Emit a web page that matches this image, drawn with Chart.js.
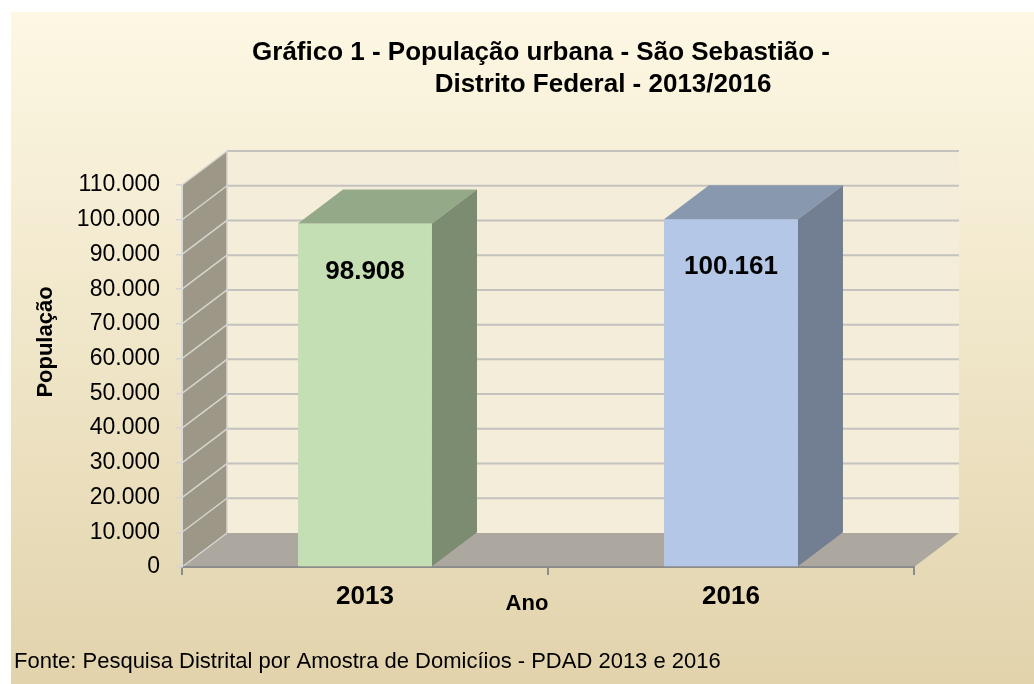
<!DOCTYPE html>
<html lang="pt-BR">
<head>
<meta charset="utf-8">
<title>População urbana - São Sebastião</title>
<script src="https://cdn.jsdelivr.net/npm/chart.js@4.4.1/dist/chart.umd.min.js"></script>
<style>
  html, body { margin: 0; padding: 0; background: #ffffff; }
  #wrap { width: 1034px; height: 684px; position: relative; }
</style>
</head>
<body>
<div id="wrap"><canvas id="grafico" width="1034" height="684"></canvas></div>
<script>
// Dados do gráfico
const anos = ['2013', '2016'];
const populacao = [98908, 100161];
const ticksY = [0, 10000, 20000, 30000, 40000, 50000, 60000, 70000, 80000, 90000, 100000, 110000];

// Textos
const titulo = ['Gráfico 1 - População urbana - São Sebastião -', 'Distrito Federal - 2013/2016'];
const tituloY = 'População';
const tituloX = 'Ano';
const fonte = 'Fonte: Pesquisa Distrital por Amostra de Domicíios - PDAD 2013 e 2016';

// Cores das barras (frente, topo, lateral)
const corFrente = ['#C5DFB4', '#B4C7E7'];
const corTopo = ['#94A987', '#8898AE'];
const corLado = ['#7C8C70', '#727F93'];

const FAMILIA = '"Liberation Sans", Arial, sans-serif';
const DX = 45, DY = -34; // deslocamento da profundidade 3D

function fmt(v) {
    return String(v).replace(/\B(?=(\d{3})+(?!\d))/g, '.');
}

function poligono(ctx, pts, cor) {
    ctx.beginPath();
    ctx.moveTo(pts[0][0], pts[0][1]);
    for (let i = 1; i < pts.length; i++) ctx.lineTo(pts[i][0], pts[i][1]);
    ctx.closePath();
    ctx.fillStyle = cor;
    ctx.fill();
}

// Fundo, paredes e piso em 3D
const paredes = {
    id: 'paredes',
    beforeDraw(chart) {
        const ctx = chart.ctx;
        const { left, right, top, bottom } = chart.chartArea;
        const y = chart.scales.y;
        ctx.save();

        const g = ctx.createLinearGradient(0, 12, 0, 684);
        g.addColorStop(0, '#FDF8E4');
        g.addColorStop(1, '#E2D3AC');
        ctx.fillStyle = g;
        ctx.fillRect(11, 12, 1023, 672);

        // parede do fundo
        ctx.fillStyle = '#F3EDD9';
        ctx.fillRect(left + DX, top + DY, right - left, bottom - top);
        // parede lateral
        poligono(ctx, [[left, top], [left + DX, top + DY], [left + DX, bottom + DY], [left, bottom]], '#9C9787');
        // piso
        poligono(ctx, [[left, bottom], [right, bottom], [right + DX, bottom + DY], [left + DX, bottom + DY]], '#ACA79F');

        // linhas de grade
        y.ticks.forEach(t => {
            const py = y.getPixelForValue(t.value);
            ctx.strokeStyle = '#D8D5CE';
            ctx.lineWidth = 1.5;
            ctx.beginPath();
            ctx.moveTo(left, py);
            ctx.lineTo(left + DX, py + DY);
            ctx.stroke();
            if (t.value > 0) {
                ctx.strokeStyle = '#C4C2BF';
                ctx.lineWidth = 2;
                ctx.beginPath();
                ctx.moveTo(left + DX, py + DY);
                ctx.lineTo(right + DX, py + DY);
                ctx.stroke();
            }
        });
        ctx.strokeStyle = '#D8D5CE';
        ctx.lineWidth = 1.5;
        ctx.beginPath();
        ctx.moveTo(left + DX, top + DY);
        ctx.lineTo(left + DX, bottom + DY);
        ctx.stroke();
        ctx.restore();
    },
    afterDatasetsDraw(chart) {
        const ctx = chart.ctx;
        const meta = chart.getDatasetMeta(0);
        ctx.save();
        meta.data.forEach((bar, i) => {
            const p = bar.getProps(['x', 'y', 'base', 'width'], true);
            const l = p.x - p.width / 2, r = p.x + p.width / 2;
            poligono(ctx, [[l, p.y], [r, p.y], [r + DX, p.y + DY], [l + DX, p.y + DY]], corTopo[i]);
            poligono(ctx, [[r, p.y], [r + DX, p.y + DY], [r + DX, p.base + DY], [r, p.base]], corLado[i]);
            ctx.fillStyle = '#000';
            ctx.font = 'bold 26px ' + FAMILIA;
            ctx.textAlign = 'center';
            ctx.textBaseline = 'middle';
            ctx.fillText(fmt(populacao[i]), p.x, p.y + 48);
        });
        ctx.restore();
    },
    afterDraw(chart) {
        const ctx = chart.ctx;
        ctx.save();
        ctx.fillStyle = '#000';
        ctx.textAlign = 'center';
        ctx.textBaseline = 'alphabetic';
        ctx.font = 'bold 26px ' + FAMILIA;
        ctx.fillText(titulo[0], 541, 60);
        ctx.fillText(titulo[1], 603, 92);

        ctx.textBaseline = 'middle';
        ctx.font = 'bold 22px ' + FAMILIA;
        ctx.fillText(tituloX, 527, 604);

        ctx.save();
        ctx.translate(46, 342);
        ctx.rotate(-Math.PI / 2);
        ctx.fillText(tituloY, 0, 0);
        ctx.restore();

        ctx.textAlign = 'left';
        ctx.font = '22px ' + FAMILIA;
        ctx.fillText(fonte, 14, 662);
        ctx.restore();
    }
};

new Chart(document.getElementById('grafico'), {
    type: 'bar',
    data: {
        labels: anos,
        datasets: [{
            data: populacao,
            backgroundColor: corFrente,
            borderWidth: 0,
            barPercentage: 0.366,
            categoryPercentage: 1
        }]
    },
    options: {
        responsive: false,
        animation: false,
        layout: { padding: { top: 185, right: 120, bottom: 0, left: 0 } },
        plugins: {
            legend: { display: false },
            tooltip: { enabled: false },
            title: { display: false }
        },
        scales: {
            x: {
                offset: true,
                grid: { offset: true, drawOnChartArea: false, tickLength: 8, color: '#8C8C8C', lineWidth: 2 },
                border: { color: '#8C8C8C', width: 2 },
                ticks: {
                    color: '#000',
                    padding: 6,
                    font: { family: FAMILIA, size: 26, weight: 'bold' }
                },
                afterFit: s => { s.height = 117; }
            },
            y: {
                min: 0,
                max: 110000,
                afterBuildTicks: s => { s.ticks = ticksY.map(v => ({ value: v })); },
                grid: { drawOnChartArea: false, tickLength: 6, color: '#D4D4D4', lineWidth: 1.5 },
                border: { color: '#DADADA', width: 2 },
                ticks: {
                    color: '#000',
                    padding: 16,
                    font: { family: FAMILIA, size: 23 },
                    callback: v => fmt(v)
                },
                afterFit: s => { s.width = 182; }
            }
        }
    },
    plugins: [paredes]
});
</script>
</body>
</html>
